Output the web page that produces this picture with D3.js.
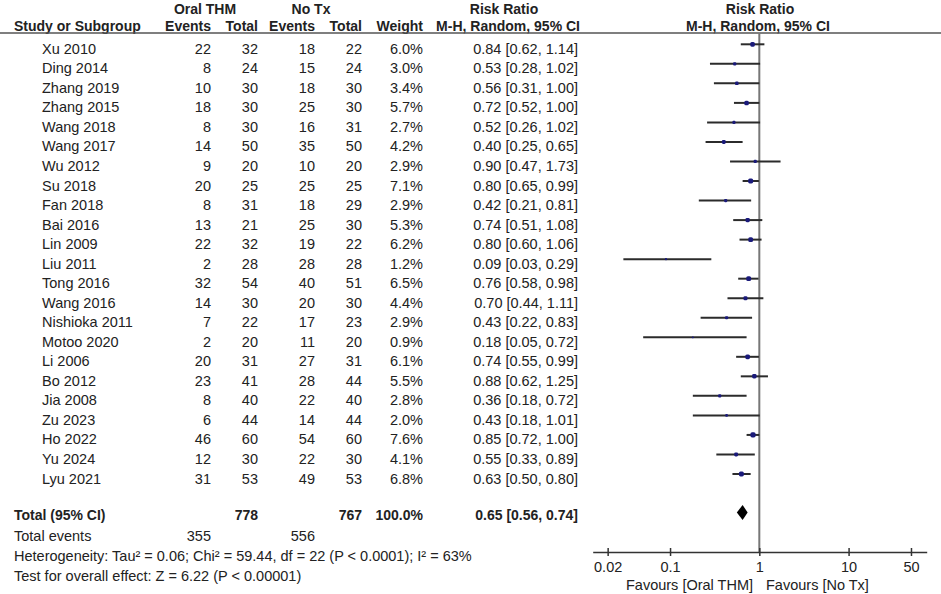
<!DOCTYPE html>
<html>
<head>
<meta charset="utf-8">
<script src="https://cdn.jsdelivr.net/npm/d3@7"></script>
<style>
  body { margin: 0; background: #fff; }
  text { font-family: "Liberation Sans", Arial, sans-serif; font-size: 14.5px; fill: #222; }
  .bold { font-weight: bold; font-size: 14px; }
</style>
</head>
<body>
<svg width="941" height="594"></svg>
<script>
// 연구별 데이터
const studies = ['Xu 2010', 'Ding 2014', 'Zhang 2019', 'Zhang 2015', 'Wang 2018', 'Wang 2017', 'Wu 2012', 'Su 2018',
  'Fan 2018', 'Bai 2016', 'Lin 2009', 'Liu 2011', 'Tong 2016', 'Wang 2016', 'Nishioka 2011', 'Motoo 2020',
  'Li 2006', 'Bo 2012', 'Jia 2008', 'Zu 2023', 'Ho 2022', 'Yu 2024', 'Lyu 2021'];
const thmEvents = [22, 8, 10, 18, 8, 14, 9, 20, 8, 13, 22, 2, 32, 14, 7, 2, 20, 23, 8, 6, 46, 12, 31];
const thmTotal = [32, 24, 30, 30, 30, 50, 20, 25, 31, 21, 32, 28, 54, 30, 22, 20, 31, 41, 40, 44, 60, 30, 53];
const noTxEvents = [18, 15, 18, 25, 16, 35, 10, 25, 18, 25, 19, 28, 40, 20, 17, 11, 27, 28, 22, 14, 54, 22, 49];
const noTxTotal = [22, 24, 30, 30, 31, 50, 20, 25, 29, 30, 22, 28, 51, 30, 23, 20, 31, 44, 40, 44, 60, 30, 53];
const weights = [6.0, 3.0, 3.4, 5.7, 2.7, 4.2, 2.9, 7.1, 2.9, 5.3, 6.2, 1.2, 6.5, 4.4, 2.9, 0.9, 6.1, 5.5, 2.8, 2.0, 7.6, 4.1, 6.8];
const riskRatio = [0.84, 0.53, 0.56, 0.72, 0.52, 0.40, 0.90, 0.80, 0.42, 0.74, 0.80, 0.09, 0.76, 0.70, 0.43, 0.18, 0.74, 0.88, 0.36, 0.43, 0.85, 0.55, 0.63];
const ciLow = [0.62, 0.28, 0.31, 0.52, 0.26, 0.25, 0.47, 0.65, 0.21, 0.51, 0.60, 0.03, 0.58, 0.44, 0.22, 0.05, 0.55, 0.62, 0.18, 0.18, 0.72, 0.33, 0.50];
const ciHigh = [1.14, 1.02, 1.00, 1.00, 1.02, 0.65, 1.73, 0.99, 0.81, 1.08, 1.06, 0.29, 0.98, 1.11, 0.83, 0.72, 0.99, 1.25, 0.72, 1.01, 1.00, 0.89, 0.80];

// 합계
const pooled = [0.65, 0.56, 0.74]; // RR, 하한, 상한
const totals = [778, 767];
const totalEvents = [355, 556];
const tickValues = [0.02, 0.1, 1, 10, 50];

const rows = studies.map((s, i) => ({
  study: s, e1: thmEvents[i], n1: thmTotal[i], e2: noTxEvents[i], n2: noTxTotal[i],
  w: weights[i], rr: riskRatio[i], lo: ciLow[i], hi: ciHigh[i]
}));

const f2 = d3.format('.2f');
const f1 = d3.format('.1f');

const svg = d3.select('svg');

// 로그 스케일 (x), 행 위치 (y)
const x = d3.scaleLog().domain([0.0136, 75]).range([592.7, 926.7]);
const y = d3.scalePoint().domain(studies).range([44.3, 474]);
const yTotal = 512.5;
const axisY = 552;
const textShift = 9.5; // 글자 baseline은 선보다 아래

// 컬럼 오른쪽 끝
const col = {ev1: 211, tot1: 258, ev2: 315, tot2: 362, weight: 423, rr: 578};

// 헤더
const head = svg.append('g').attr('class', 'head');
head.append('text').classed('bold', true).attr('x', 205).attr('y', 13.5).attr('text-anchor', 'middle').text('Oral THM');
head.append('text').classed('bold', true).attr('x', 311).attr('y', 13.5).attr('text-anchor', 'middle').text('No Tx');
head.append('text').classed('bold', true).attr('x', 504).attr('y', 13.5).attr('text-anchor', 'middle').text('Risk Ratio');
head.append('text').classed('bold', true).attr('x', 760).attr('y', 13.5).attr('text-anchor', 'middle').text('Risk Ratio');
head.append('text').classed('bold', true).attr('x', 14).attr('y', 30.5).text('Study or Subgroup');
[['Events', col.ev1], ['Total', col.tot1], ['Events', col.ev2], ['Total', col.tot2], ['Weight', col.weight]].forEach(([t, cx]) => {
  head.append('text').classed('bold', true).attr('x', cx).attr('y', 30.5).attr('text-anchor', 'end').text(t);
});
head.append('text').classed('bold', true).attr('x', col.rr + 2).attr('y', 30.5).attr('text-anchor', 'end').text('M-H, Random, 95% CI');
head.append('text').classed('bold', true).attr('x', 758).attr('y', 30.5).attr('text-anchor', 'middle').text('M-H, Random, 95% CI');
head.append('line').attr('x1', 0).attr('x2', 941).attr('y1', 33).attr('y2', 33)
  .attr('stroke', '#555').attr('stroke-width', 1.5);

// 연구 행 텍스트
const rowG = svg.selectAll('.row').data(rows).enter().append('g').classed('row', true)
  .attr('transform', d => `translate(0,${y(d.study) + textShift})`);
rowG.append('text').attr('x', 42).text(d => d.study);
rowG.append('text').attr('x', col.ev1).attr('text-anchor', 'end').text(d => d.e1);
rowG.append('text').attr('x', col.tot1).attr('text-anchor', 'end').text(d => d.n1);
rowG.append('text').attr('x', col.ev2).attr('text-anchor', 'end').text(d => d.e2);
rowG.append('text').attr('x', col.tot2).attr('text-anchor', 'end').text(d => d.n2);
rowG.append('text').attr('x', col.weight).attr('text-anchor', 'end').text(d => f1(d.w) + '%');
rowG.append('text').attr('x', col.rr).attr('text-anchor', 'end').text(d => `${f2(d.rr)} [${f2(d.lo)}, ${f2(d.hi)}]`);

// 1 기준선
svg.append('line').attr('x1', x(1)).attr('x2', x(1)).attr('y1', 33).attr('y2', axisY)
  .attr('stroke', '#777').attr('stroke-width', 2);

// 신뢰구간 선
svg.selectAll('.ci').data(rows).enter().append('line').classed('ci', true)
  .attr('x1', d => x(d.lo)).attr('x2', d => x(d.hi))
  .attr('y1', d => y(d.study)).attr('y2', d => y(d.study))
  .attr('stroke', '#2b2b2b').attr('stroke-width', 2);

// 가중치 사각형 (면적 ∝ 가중치)
const side = w => 1.9 * Math.sqrt(w);
svg.selectAll('.sq').data(rows).enter().append('rect').classed('sq', true)
  .attr('x', d => x(d.rr) - side(d.w) / 2).attr('y', d => y(d.study) - side(d.w) / 2)
  .attr('width', d => side(d.w)).attr('height', d => side(d.w))
  .attr('rx', d => side(d.w) / 3)
  .attr('fill', '#1a1a7a');

// 합계 행
const tot = svg.append('g').attr('transform', `translate(0,${yTotal + 7})`);
tot.append('text').classed('bold', true).attr('x', 14).text('Total (95% CI)');
tot.append('text').classed('bold', true).attr('x', col.tot1).attr('text-anchor', 'end').text(totals[0]);
tot.append('text').classed('bold', true).attr('x', col.tot2).attr('text-anchor', 'end').text(totals[1]);
tot.append('text').classed('bold', true).attr('x', col.weight).attr('text-anchor', 'end').text('100.0%');
tot.append('text').classed('bold', true).attr('x', col.rr).attr('text-anchor', 'end')
  .text(`${f2(pooled[0])} [${f2(pooled[1])}, ${f2(pooled[2])}]`);

const ev = svg.append('g').attr('transform', `translate(0,541)`);
ev.append('text').attr('x', 14).text('Total events');
ev.append('text').attr('x', col.ev1).attr('text-anchor', 'end').text(totalEvents[0]);
ev.append('text').attr('x', col.ev2).attr('text-anchor', 'end').text(totalEvents[1]);

svg.append('text').attr('x', 14).attr('y', 561)
  .text('Heterogeneity: Tau² = 0.06; Chi² = 59.44, df = 22 (P < 0.0001); I² = 63%');
svg.append('text').attr('x', 14).attr('y', 581)
  .text('Test for overall effect: Z = 6.22 (P < 0.00001)');

// 다이아몬드
const dh = 7.5;
svg.append('path')
  .attr('d', `M${x(pooled[1])},${yTotal} L${x(pooled[0])},${yTotal - dh} L${x(pooled[2])},${yTotal} L${x(pooled[0])},${yTotal + dh} Z`)
  .attr('fill', '#000');

// x축
const axis = svg.append('g').attr('transform', `translate(0,${axisY})`)
  .call(d3.axisBottom(x).tickValues(tickValues).tickSizeOuter(0).tickSizeInner(4).tickPadding(6)
    .tickFormat(d => String(d)));
axis.select('.domain').attr('stroke', '#333').attr('stroke-width', 1.5);
axis.selectAll('.tick line').attr('y1', -4).attr('y2', 4).attr('stroke', '#333').attr('stroke-width', 1.5);
axis.selectAll('.tick text').style('font-size', '14.5px').style('font-family', '"Liberation Sans", Arial, sans-serif').attr('fill', '#222');

svg.append('text').attr('x', 753).attr('y', 590).attr('text-anchor', 'end').attr('fill', '#444').text('Favours [Oral THM]');
svg.append('text').attr('x', 766).attr('y', 590).attr('fill', '#444').text('Favours [No Tx]');
</script>
</body>
</html>
